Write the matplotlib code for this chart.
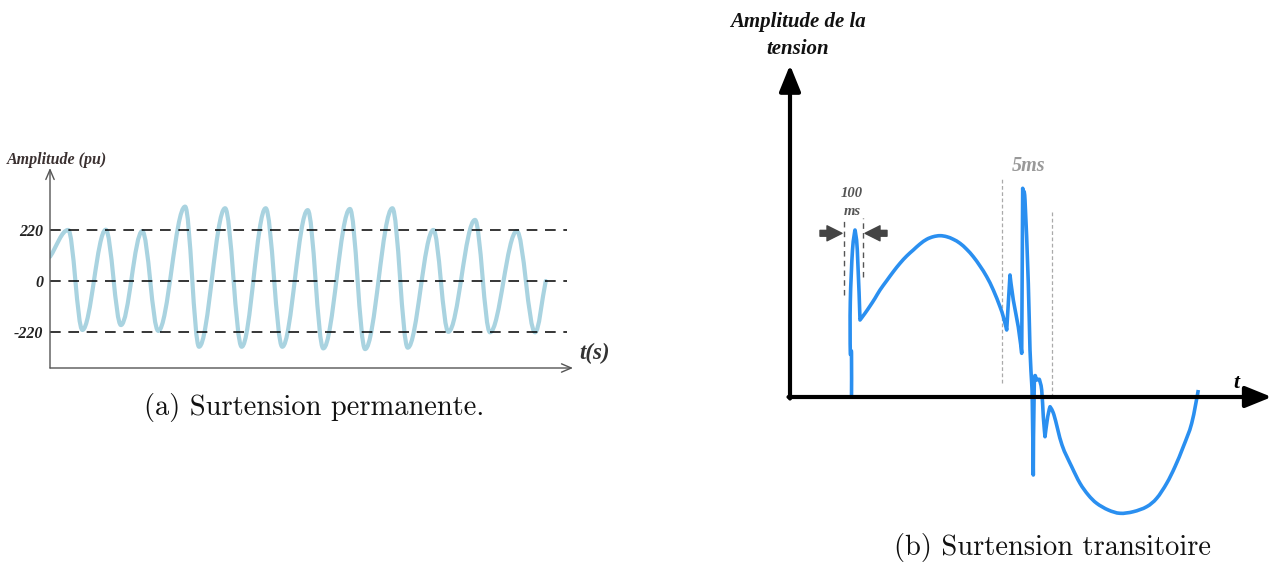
import matplotlib
matplotlib.use("Agg")
import numpy as np
import matplotlib.pyplot as plt
from matplotlib.path import Path
from matplotlib.patches import PathPatch

# ---- (a) steady overvoltage: extrema of the waveform (time in ms, amplitude in pu)
perm_t = [0, 8.9, 15.8, 27.2, 34.6, 45.0, 52.8, 65.9, 72.7, 85.4, 93.5, 105.2,
          113.3, 125.7, 133.3, 146.3, 153.7, 167.0, 174.5, 187.0, 194.3, 207.3,
          214.6, 227.7, 236.6, 241.8]
perm_v = [104, 219, -210, 220, -189, 214, -214, 319, -282, 312, -282, 312,
          -282, 304, -289, 309, -292, 312, -286, 219, -218, 262, -220, 214,
          -220, 0]
perm_levels = [220, 0, -220]
perm_level_labels = ["220", "0", "-220"]

# ---- (b) transient overvoltage (arbitrary time / amplitude units)
trans_t = [61.5, 61.5, 60.3, 60.3, 62.5, 65, 67.3, 70,
           75, 80, 85, 90, 96.7, 103.3, 110, 116.7, 123.3, 130, 136.7, 143.3,
           150, 156.7, 163.3, 170, 176.7, 183.3, 190, 196.7, 203.3, 210,
           213.3, 216.7,
           220, 223.3, 228.3, 231.7, 232.7, 233.3, 235, 238.3, 240, 241.7,
           242.3, 243.3, 244.3, 246.7, 249.3, 251.7, 253.3, 255, 257.7, 260,
           264,
           272, 281.7, 290, 298.3, 306.7, 318.3, 330, 343.3, 356.7, 366.7,
           376.7, 385, 393.3, 401.7, 408.3]
trans_v = [0, 44, 45, 95, 147, 167, 147, 77,
           83.7, 91, 98.7, 107, 116.3, 125.3, 133.7, 141, 147, 153, 157.7,
           160.3, 161.3, 160.3, 157.7, 153.7, 147.7, 140.3, 131, 120.3, 107,
           90.3, 80.3, 67,
           122, 97, 70, 43.7, 208.7, 203.7, 197, 113.7, 47, 13.7,
           -6.3, -78, 13.7, 17, 17.7, 7, -19.7, -39.7, -19.7, -9.7,
           -18,
           -48, -69.7, -86.3, -98, -106.3, -113, -116.3, -114.7, -109.7,
           -101.3, -86.3, -69.7, -49.7, -26.3, 7]

W, H = 1272, 564
fig = plt.figure(figsize=(W / 100, H / 100), dpi=100)

SERIF = "Liberation Serif"


def extrema_path(ts, vs, k=0.36):
    """Cubic Bezier through the nodes, flat tangents at the inner extrema."""
    n = len(ts)
    slopes = []
    for i in range(n):
        if i == 0:
            slopes.append((vs[1] - vs[0]) / (ts[1] - ts[0]))
        elif i == n - 1:
            slopes.append((vs[-1] - vs[-2]) / (ts[-1] - ts[-2]))
        else:
            slopes.append(0.0)
    verts = [(ts[0], vs[0])]
    codes = [Path.MOVETO]
    for i in range(n - 1):
        dt = ts[i + 1] - ts[i]
        verts += [(ts[i] + k * dt, vs[i] + slopes[i] * k * dt),
                  (ts[i + 1] - k * dt, vs[i + 1] - slopes[i + 1] * k * dt),
                  (ts[i + 1], vs[i + 1])]
        codes += [Path.CURVE4] * 3
    return Path(verts, codes)


def spline_path(ts, vs):
    """Catmull-Rom curve through the nodes, keeping sharp corners at spikes."""
    p = np.column_stack([ts, vs]).astype(float)
    n = len(p)
    tang = np.zeros_like(p)
    for i in range(1, n - 1):
        a = p[i] - p[i - 1]
        b = p[i + 1] - p[i]
        cosang = np.dot(a, b) / (np.linalg.norm(a) * np.linalg.norm(b))
        if cosang > 0.5:
            tang[i] = (p[i + 1] - p[i - 1]) / 2.0
    verts = [tuple(p[0])]
    codes = [Path.MOVETO]
    for i in range(n - 1):
        verts += [tuple(p[i] + tang[i] / 3.0), tuple(p[i + 1] - tang[i + 1] / 3.0),
                  tuple(p[i + 1])]
        codes += [Path.CURVE4] * 3
    return Path(verts, codes)


# ================= panel (a) =================
axa = fig.add_axes([50 / W, (H - 368) / H, 523 / W, 200 / H])
axa.set_xlim(0, 255.1)
axa.set_ylim(-373.1, 484.6)
for s in axa.spines.values():
    s.set_visible(False)
axa.set_xticks([])
axa.set_yticks(perm_levels)
axa.set_yticklabels(perm_level_labels, fontfamily=SERIF, fontweight="bold",
                    fontstyle="italic", fontsize=11.5, color="#222222")
axa.tick_params(axis="y", length=0, pad=5)
for lv in perm_levels:
    axa.axhline(lv, xmin=0, xmax=0.989, color="black", lw=1.1,
                dashes=(7, 5), zorder=3)

axa.add_patch(PathPatch(extrema_path(perm_t, perm_v), fill=False,
                        edgecolor="#a9d3e0", lw=3.0, zorder=2,
                        capstyle="round", joinstyle="round"))

# axes with open arrow heads
axa.annotate("", xy=(1, 0), xytext=(0, 0), xycoords="axes fraction",
             arrowprops=dict(arrowstyle="->,head_length=0.7,head_width=0.3",
                             color="#555555", lw=1.0, shrinkA=0, shrinkB=0))
axa.annotate("", xy=(0, 1), xytext=(0, 0), xycoords="axes fraction",
             arrowprops=dict(arrowstyle="->,head_length=0.7,head_width=0.3",
                             color="#555555", lw=1.0, shrinkA=0, shrinkB=0))
axa.text(0.014, 1.04, "Amplitude (pu)", transform=axa.transAxes,
         ha="center", va="center", fontfamily=SERIF, fontweight="bold",
         fontstyle="italic", fontsize=11.5, color="#3b3131")
axa.text(1.013, 0.075, "t(s)", transform=axa.transAxes, ha="left",
         va="center", fontfamily=SERIF, fontweight="bold", fontstyle="italic",
         fontsize=16.5, color="#333333")

fig.text(314 / W, 1 - 408 / H, "(a) Surtension permanente.", ha="center",
         va="center", fontfamily="cmr10", fontsize=20.5, color="#111111")

# ================= panel (b) =================
axb = fig.add_axes([790 / W, (H - 530) / H, 481.7 / W, 470 / H])
axb.set_xlim(0, 481.7)
axb.set_ylim(-133, 337)
axb.set_axis_off()

axb.add_patch(PathPatch(spline_path(trans_t, trans_v), fill=False,
                        edgecolor="#2a8ff0", lw=2.6, joinstyle="round",
                        capstyle="butt", zorder=3, clip_on=False))

# black axes with filled arrow heads
arrow_kw = dict(arrowstyle="-|>,head_length=1.6,head_width=0.65",
                color="black", lw=3.0, shrinkA=0, shrinkB=0)
axb.annotate("", xy=(481.7, 0), xytext=(-1.5, 0), arrowprops=arrow_kw)
axb.annotate("", xy=(0, 332), xytext=(0, -1.5), arrowprops=arrow_kw)

axb.text(446.7, 14, "t", ha="center", va="center", fontfamily=SERIF,
         fontweight="bold", fontstyle="italic", fontsize=15.5, color="black")
axb.text(8, 375, "Amplitude de la", ha="center", va="center",
         fontfamily=SERIF, fontweight="bold", fontstyle="italic",
         fontsize=15, color="#111111", clip_on=False)
axb.text(7.5, 348, "tension", ha="center", va="center", fontfamily=SERIF,
         fontweight="bold", fontstyle="italic", fontsize=15,
         color="#111111", clip_on=False)

# 100 ms window around the first spike
axb.plot([54.3, 54.3], [102, 179], color="#555555", lw=1.0, dashes=(4, 3))
axb.plot([72.7, 72.7], [120, 179], color="#555555", lw=1.0, dashes=(4, 3))
axb.annotate("", xy=(52, 163.7), xytext=(30, 163.7),
             arrowprops=dict(arrowstyle="simple,head_length=0.9,head_width=0.9,tail_width=0.35",
                             color="#444444", shrinkA=0, shrinkB=0,
                             mutation_scale=12))
axb.annotate("", xy=(75, 163.7), xytext=(97, 163.7),
             arrowprops=dict(arrowstyle="simple,head_length=0.9,head_width=0.9,tail_width=0.35",
                             color="#444444", shrinkA=0, shrinkB=0,
                             mutation_scale=12))
axb.text(61.7, 203.7, "100", ha="center", va="center", fontfamily=SERIF,
         fontweight="bold", fontstyle="italic", fontsize=10.5, color="#555555")
axb.text(62, 185, "ms", ha="center", va="center", fontfamily=SERIF,
         fontweight="bold", fontstyle="italic", fontsize=10.5, color="#555555")

# 5 ms window around the second disturbance
axb.plot([211.7, 211.7], [14, 220], color="#aaaaaa", lw=0.9, dashes=(3, 2))
axb.plot([261.7, 261.7], [0, 185], color="#aaaaaa", lw=0.9, dashes=(3, 2))
axb.text(239, 230.5, "5ms", ha="center", va="center", fontfamily=SERIF,
         fontweight="bold", fontstyle="italic", fontsize=14.5, color="#999999")

fig.text(1052 / W, 1 - 548 / H, "(b) Surtension transitoire", ha="center",
         va="center", fontfamily="cmr10", fontsize=20.5, color="#111111")

fig.savefig("out.png", dpi=100, facecolor="white")
